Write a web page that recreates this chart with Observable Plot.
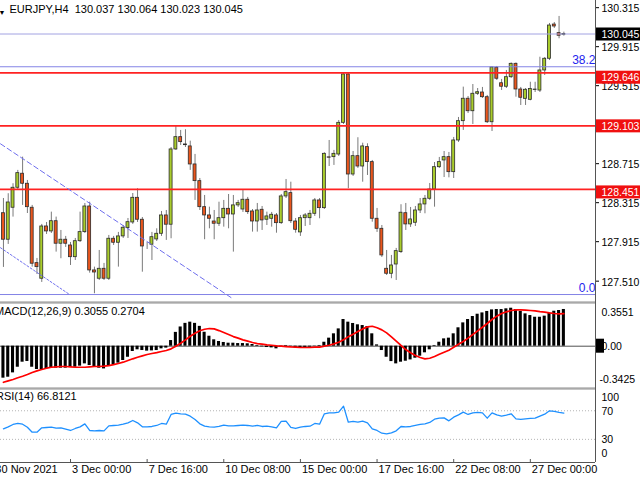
<!DOCTYPE html>
<html><head><meta charset="utf-8">
<script src="https://cdn.jsdelivr.net/npm/d3@7"></script>
<script src="https://cdn.jsdelivr.net/npm/@observablehq/plot@0.6"></script>
<style>
body{margin:0;background:#fff;}
#c{position:relative;width:640px;height:480px;overflow:hidden;background:#fff;}
#c svg{position:absolute;left:0;overflow:visible;}
</style></head><body><div id="c"></div>
<script>
// ---------- data ----------
const symbol = "EURJPY,H4";
const firstIndex = 2; // bar index of first visible candle (index 0 = 30 Nov 2021)
const opens = [128.207,127.935,128.263,128.468,128.612,128.509,128.263,127.695,127.535,128.071,
128.020,128.125,127.894,127.935,127.876,127.756,127.920,128.013,128.276,127.620,
127.535,127.637,127.535,127.945,127.904,127.969,128.054,128.112,128.365,128.140,
127.866,127.884,127.938,127.996,128.184,128.089,128.861,128.987,128.912,128.892,
128.707,128.536,128.269,128.184,128.122,128.099,128.156,128.252,128.194,128.287,
128.245,128.345,128.225,128.122,128.242,128.140,128.150,128.184,128.105,128.379,
128.413,128.122,128.010,128.156,128.156,128.201,128.338,128.259,128.780,128.782,
128.809,129.134,129.630,128.604,128.792,128.686,128.885,128.731,128.150,128.047,
127.637,127.586,127.681,127.808,128.207,128.092,128.109,128.235,128.297,128.355,
128.450,128.679,128.748,128.782,128.628,128.953,129.151,129.381,129.253,129.432,
129.445,129.397,129.140,129.699,129.540,129.504,129.602,129.739,129.476,129.380,
129.370,129.470,129.465,129.671,129.791,130.142,130.054,130.037];
const highs = [128.358,128.407,128.509,128.646,128.782,128.543,128.287,127.743,128.092,128.112,
128.218,128.167,128.030,127.969,127.907,127.948,128.218,128.307,128.320,127.654,
127.825,127.692,127.979,127.969,128.010,128.081,128.153,128.409,128.458,128.163,
127.907,128.010,128.047,128.225,128.235,128.881,129.097,129.056,129.063,128.946,
128.810,128.563,128.389,128.269,128.235,128.320,128.338,128.399,128.389,128.338,
128.450,128.369,128.245,128.307,128.276,128.218,128.215,128.204,128.399,128.553,
128.525,128.153,128.184,128.204,128.235,128.358,128.358,128.827,128.953,128.851,
129.158,129.640,129.646,128.840,128.981,128.925,128.919,128.748,128.256,128.081,
127.825,127.774,127.846,128.294,128.307,128.266,128.276,128.358,128.389,128.512,
128.727,128.779,128.840,128.830,128.984,129.189,129.500,129.404,129.527,129.486,
129.497,129.415,129.705,129.712,129.579,129.671,129.748,129.748,129.497,129.486,
129.550,129.550,129.807,129.804,130.153,130.163,130.225,130.064];
const lows = [127.651,127.887,128.167,128.440,128.287,128.204,127.654,127.579,127.497,127.989,
127.999,127.808,127.740,127.856,127.671,127.722,127.907,127.999,127.592,127.381,
127.517,127.517,127.517,127.876,127.654,127.948,127.948,128.092,128.112,127.602,
127.835,127.722,127.917,127.969,127.928,127.945,128.851,128.902,128.881,128.646,
128.338,128.235,127.935,128.047,127.935,128.071,128.064,128.047,127.808,128.266,
128.215,128.194,128.013,128.013,128.030,128.081,128.064,128.002,128.092,128.358,
128.102,128.002,127.969,128.071,128.081,128.174,128.150,128.245,128.686,128.697,
128.789,129.117,128.458,128.584,128.666,128.525,128.594,128.115,128.010,127.753,
127.568,127.535,127.517,127.794,128.030,128.061,128.071,128.204,128.201,128.338,
128.269,128.666,128.573,128.570,128.563,128.933,129.056,129.230,129.117,129.415,
129.384,129.127,129.045,129.568,129.466,129.486,129.589,129.397,129.312,129.312,
129.360,129.445,129.445,129.620,129.773,130.102,129.996,130.023];
const closes = [127.935,128.317,128.468,128.618,128.509,128.269,127.689,127.654,128.071,128.020,
128.125,127.894,127.935,127.894,127.756,127.920,128.013,128.276,127.620,127.599,
127.637,127.535,127.945,127.904,127.969,128.058,128.115,128.365,128.140,127.866,
127.866,127.961,127.996,128.184,128.089,128.861,128.987,128.936,128.905,128.707,
128.536,128.269,128.184,128.150,128.099,128.156,128.252,128.194,128.287,128.310,
128.345,128.218,128.122,128.235,128.133,128.174,128.191,128.105,128.379,128.423,
128.125,128.037,128.156,128.184,128.201,128.338,128.259,128.816,128.776,128.816,
129.134,129.630,128.604,128.792,128.686,128.892,128.731,128.150,128.047,127.774,
127.586,127.671,127.818,128.212,128.092,128.143,128.235,128.297,128.355,128.450,
128.679,128.731,128.782,128.628,128.953,129.151,129.381,129.253,129.432,129.448,
129.397,129.140,129.702,129.586,129.504,129.602,129.739,129.476,129.391,129.473,
129.480,129.475,129.671,129.791,130.132,130.122,130.027,130.045];
const macdHist = [-0.266,-0.258,-0.222,-0.175,-0.133,-0.127,-0.175,-0.194,-0.194,-0.189,
-0.183,-0.183,-0.183,-0.183,-0.177,-0.175,-0.166,-0.147,-0.161,-0.175,
-0.183,-0.189,-0.166,-0.155,-0.141,-0.119,-0.092,-0.044,-0.030,-0.036,
-0.041,-0.039,-0.036,-0.022,-0.016,0.047,0.115,0.160,0.190,0.200,
0.190,0.165,0.116,0.083,0.053,0.039,0.031,0.025,0.025,0.022,
0.022,0.020,0.014,0.006,-0.005,-0.011,-0.014,-0.022,-0.008,0.006,
-0.003,-0.014,-0.016,-0.014,-0.008,-0.003,0.006,
0.033,0.067,0.103,0.144,0.222,0.200,0.189,0.178,0.172,0.164,
0.103,0.011,-0.036,-0.092,-0.128,-0.147,-0.133,-0.125,-0.114,-0.100,
-0.083,-0.055,-0.030,0.006,0.033,0.061,0.067,0.103,0.153,0.194,
0.222,0.247,0.266,0.277,0.289,0.302,0.305,0.305,0.311,0.316,
0.305,0.289,0.269,0.255,0.241,0.241,0.250,0.275,0.291,0.297,0.3055];
const macdSignal = [-0.300,-0.288,-0.277,-0.263,-0.250,-0.236,-0.219,-0.205,-0.194,-0.183,
-0.175,-0.172,-0.169,-0.169,-0.172,-0.175,-0.175,-0.175,-0.172,-0.169,
-0.169,-0.166,-0.161,-0.153,-0.144,-0.133,-0.119,-0.105,-0.092,-0.080,
-0.069,-0.061,-0.053,-0.044,-0.036,-0.022,0.000,0.025,0.053,0.083,
0.108,0.128,0.141,0.147,0.144,0.130,0.114,0.097,0.080,0.067,
0.053,0.042,0.031,0.022,0.017,0.011,0.008,0.003,0.000,-0.003,
-0.006,-0.008,-0.011,-0.011,-0.011,-0.008,-0.008,
0.000,0.008,0.019,0.033,0.053,0.078,0.100,0.122,0.144,0.161,
0.166,0.153,0.136,0.111,0.078,0.042,0.006,-0.028,-0.055,-0.078,
-0.094,-0.105,-0.100,-0.086,-0.067,-0.050,-0.033,-0.008,0.017,0.039,
0.067,0.097,0.128,0.158,0.189,0.222,0.250,0.272,0.286,0.297,
0.302,0.302,0.300,0.297,0.294,0.288,0.283,0.277,0.272,0.269,0.2704];
const rsi = [44.7,47.5,50.8,52.2,51.2,47.0,40.0,40.0,46.1,46.6,
47.0,45.6,46.1,44.2,42.4,45.2,47.5,51.7,42.4,41.9,
42.4,41.9,48.9,49.4,49.9,51.2,53.1,56.4,53.1,47.5,
47.5,48.0,49.4,52.2,51.2,64.8,66.6,65.7,65.2,62.4,
57.8,51.7,48.4,47.5,47.0,48.0,49.9,48.9,48.9,49.4,
49.9,49.4,48.4,49.4,48.0,48.4,47.5,46.1,55.0,55.4,
46.6,45.2,47.0,48.0,48.4,52.2,51.2,
65.7,67.1,67.1,68.0,76.4,54.0,55.0,54.0,55.4,53.1,
44.7,42.4,38.6,37.7,39.1,41.9,48.0,47.5,48.0,49.4,
50.8,51.7,53.6,58.2,59.6,60.1,55.9,61.0,64.3,68.0,
64.8,67.1,67.6,67.1,59.6,67.1,64.3,62.4,63.8,65.7,
58.7,57.8,58.7,59.2,59.6,62.4,65.2,69.9,69.0,67.6,66.8121];
const timeTicks = [0,16,32,48,64,80,96,112];
const timeLabels = ["30 Nov 2021","3 Dec 00:00","7 Dec 16:00","10 Dec 08:00","15 Dec 00:00","17 Dec 16:00","22 Dec 08:00","27 Dec 00:00"];
const priceTicks = [130.315,129.915,129.515,129.115,128.715,128.315,127.915,127.510];
const levels = [129.646,129.103,128.451];
const bid = 130.045;
const fibLabels = ["38.2","0.0"];
const fibPrices = [129.709,127.373];
const trendUpperI = [0,50], trendUpperP = [128.964,127.326];
const trendLowerI = [0,15.6], trendLowerP = [127.899,127.38];
const macdTicks = [0.3551,0,-0.3425];
const macdTickLabels = ["0.3551","0.00","-0.3425"];
const rsiTicks = [100,70,30,0];
const rsiLevels = [70,30];

// ---------- build ----------
const bars = opens.map((o,k)=>({i:firstIndex+k,o,h:highs[k],l:lows[k],c:closes[k],m:macdHist[k],s:macdSignal[k],r:rsi[k]}));
const last = bars[bars.length-1];
const bull = bars.filter(d=>d.c>=d.o), bear = bars.filter(d=>d.c<d.o);
const xDom = [1.386,125.604], xMax = xDom[1];
const font = "'Liberation Sans', Arial, sans-serif";
const common = {width:640, marginLeft:0, marginRight:45, marginTop:0, x:{domain:xDom, axis:null}, style:{fontFamily:font, background:"transparent", overflow:"visible"}};
const sep = "#8c8c8c";
const c = document.getElementById("c");
function place(svg, top){ svg.style.top = top+"px"; c.appendChild(svg); }

// main price panel
const yDomMain = [127.2912,130.3886];
const hb = 6.5/97.5;
function labelBox(p, bg, shift){
  return [
    Plot.rect([p],{x1:xMax,x2:xMax+10,y1:d=>d-hb,y2:d=>d+hb,fill:bg,dy:shift}),
    Plot.text([p],{x:xMax,y:d=>d,text:d=>d.toFixed(3),textAnchor:"start",dx:6,dy:shift,fill:"#fff",fontSize:10.5})
  ];
}
const main = Plot.plot({...common, height:302, marginBottom:0,
  y:{domain:yDomMain, axis:null},
  marks:[
    Plot.ruleX(bars,{x:"i",y1:"l",y2:"h",stroke:"#7a7a7a",strokeWidth:1}),
    Plot.rect(bull,{x1:d=>d.i-0.31,x2:d=>d.i+0.31,y1:"o",y2:"c",fill:"#a9cc2c",stroke:"#2b2b2b",strokeWidth:0.8}),
    Plot.rect(bear,{x1:d=>d.i-0.31,x2:d=>d.i+0.31,y1:"o",y2:"c",fill:"#ea561d",stroke:"#2b2b2b",strokeWidth:0.8}),
    Plot.ruleY([bid],{stroke:"#a2a2e2"}),
    Plot.ruleY(fibPrices,{stroke:"#8484e6"}),
    Plot.ruleY(levels,{stroke:"#ff2222",strokeWidth:1.7}),
    Plot.line(trendUpperI.map((v,k)=>({i:v,p:trendUpperP[k]})),{x:"i",y:"p",stroke:"#6f6fee",strokeDasharray:"5,3",strokeWidth:1,clip:true}),
    Plot.line(trendLowerI.map((v,k)=>({i:v,p:trendLowerP[k]})),{x:"i",y:"p",stroke:"#6f6fee",strokeDasharray:"2,2",strokeWidth:1,clip:true}),
    Plot.text(fibLabels,{x:xMax,y:(d,k)=>fibPrices[k],text:d=>d,textAnchor:"end",dx:0,dy:-6.8,fill:"#2424ee",fontSize:12}),
    Plot.text([`${symbol}\u00a0\u00a0${last.o.toFixed(3)} ${last.h.toFixed(3)} ${last.l.toFixed(3)} ${last.c.toFixed(3)}`],{frameAnchor:"top-left",dx:9,dy:5,lineAnchor:"top",textAnchor:"start",fontSize:11,fill:"#000"}),
    Plot.text(["\u25BC"],{frameAnchor:"top-left",dx:-2,dy:10,fontSize:7,fill:"#000"}),
    Plot.ruleY(priceTicks,{x1:xMax,x2:xMax+4/4.79,stroke:"#000"}),
    Plot.text(priceTicks,{x:xMax,y:d=>d,text:d=>d.toFixed(3),textAnchor:"start",dx:6,dy:1,fontSize:10.5,fill:"#000"}),
    ...labelBox(bid,"#000",0.5),
    ...labelBox(levels[0],"#f01010",4.8),
    ...labelBox(levels[1],"#f01010",0.5),
    ...labelBox(levels[2],"#f01010",3),
    Plot.ruleX([xMax],{stroke:"#555"}),
    Plot.ruleY([yDomMain[0]+0.5/97.5],{stroke:sep})
  ]});
place(main,0);

// MACD panel
const yDomMacd = [(43.7-86)/120.2, 43.7/120.2];
const hm = 7/120.2;
const macdDy = [8.7,0.3,-7.9];
const macd = Plot.plot({...common, height:86, marginBottom:0,
  y:{domain:yDomMacd, axis:null},
  marks:[
    Plot.ruleY([0],{stroke:"#505050"}),
    Plot.rect(bars,{x1:d=>d.i-0.32,x2:d=>d.i+0.32,y1:0,y2:"m",fill:"#000"}),
    Plot.line(bars,{x:"i",y:"s",stroke:"#ff0000",strokeWidth:1.7}),
    Plot.text([`MACD(12,26,9) ${last.m.toFixed(4)} ${last.s.toFixed(4)}`],{frameAnchor:"top-left",dx:-5.5,dy:4.3,lineAnchor:"top",textAnchor:"start",fontSize:11,fill:"#000"}),
    Plot.rect([0],{x1:xMax,x2:xMax+9/4.79,y1:d=>d-hm,y2:d=>d+hm,fill:"#000"}),
    ...macdTicks.map((t,k)=>Plot.text([t],{x:xMax,y:d=>d,text:()=>macdTickLabels[k],textAnchor:"start",dx:k===2?4:6,dy:macdDy[k],fontSize:10.5,fill:"#000"})),
    Plot.ruleX([xMax],{stroke:"#555"}),
    Plot.ruleY([yDomMacd[1]-0.5/120.2],{stroke:sep}),
    Plot.ruleY([yDomMacd[0]+0.5/120.2],{stroke:sep})
  ]});
place(macd,302);

// RSI panel
const yDomRsi = [(72.3-74)/0.715, 72.3/0.715];
const rsiDy = [7.9,0.45,0.45,-7.6];
const rsiPlot = Plot.plot({...common, height:92, marginBottom:18,
  y:{domain:yDomRsi, axis:null},
  marks:[
    Plot.ruleY(rsiLevels,{stroke:"#b4b4b4",strokeDasharray:"1,2"}),
    Plot.line(bars,{x:"i",y:"r",stroke:"#1e90ff",strokeWidth:1.3}),
    Plot.text([`RSI(14) ${last.r.toFixed(4)}`],{frameAnchor:"top-left",dx:-4.5,dy:3.2,lineAnchor:"top",textAnchor:"start",fontSize:11,fill:"#000"}),
    ...rsiTicks.map((t,k)=>Plot.text([t],{x:xMax,y:d=>d,text:d=>String(d),textAnchor:"start",dx:6,dy:rsiDy[k],fontSize:10.5,fill:"#000"})),
    Plot.ruleX([xMax],{stroke:"#555"}),
    Plot.ruleY([yDomRsi[1]-0.5/0.715],{stroke:sep}),
    Plot.ruleY([yDomRsi[0]],{stroke:"#555"}),
    Plot.ruleX(timeTicks,{x:d=>d,y1:yDomRsi[0],y2:yDomRsi[0]+3/0.715,stroke:"#555"}),
    Plot.text(timeTicks,{x:d=>d,y:yDomRsi[0],text:(d,k)=>timeLabels[k],textAnchor:"start",dx:1.5,dy:7.3,fontSize:11,fill:"#000"})
  ]});
place(rsiPlot,388);
</script></body></html>
